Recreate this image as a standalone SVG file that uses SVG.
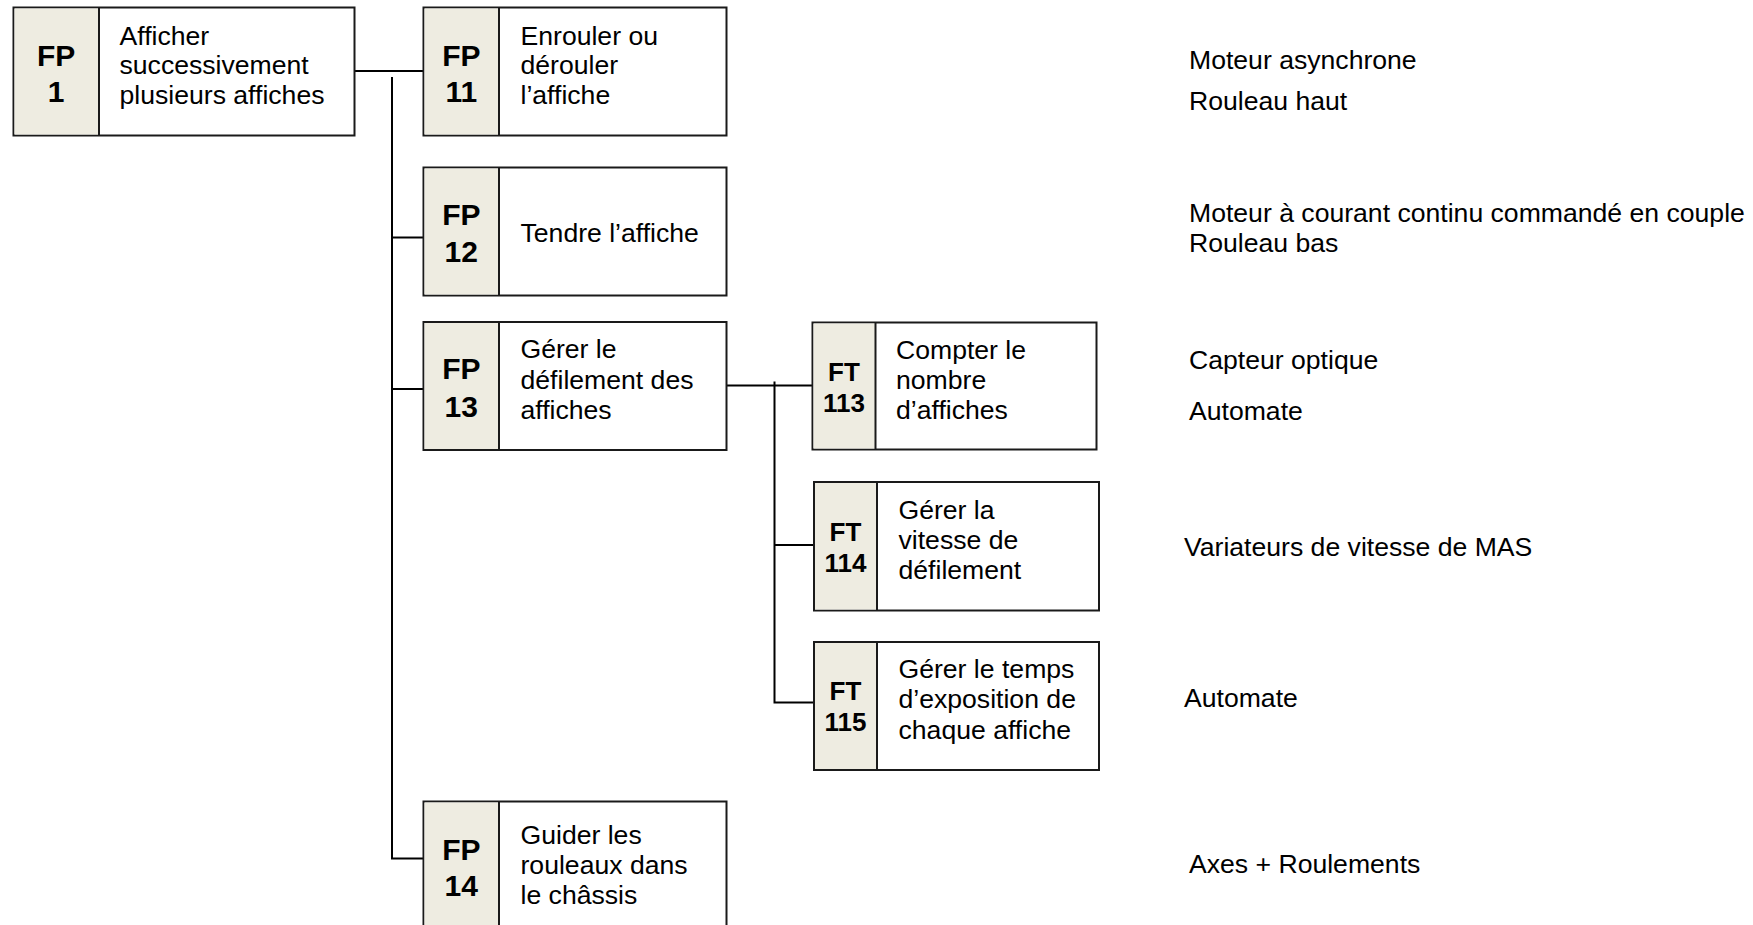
<svg xmlns="http://www.w3.org/2000/svg" width="1753" height="925" viewBox="0 0 1753 925">
<style>
.box{fill:#ffffff;stroke:#1a1a1a;stroke-width:2}
.id{fill:#EEECE1;stroke:none}
.div{stroke:#1a1a1a;stroke-width:2}
.t{font-family:"Liberation Sans",Arial,sans-serif;font-size:26.6px;fill:#000}
.fp{font-family:"Liberation Sans",Arial,sans-serif;font-size:30px;font-weight:bold;fill:#000;text-anchor:middle}
.ft{font-family:"Liberation Sans",Arial,sans-serif;font-size:26px;font-weight:bold;fill:#000;text-anchor:middle}
.c{fill:none;stroke:#000;stroke-width:2}
</style>
<rect width="1753" height="925" fill="#ffffff"/>
<g id="connectors">
<line class="c" x1="354.5" y1="71" x2="423.5" y2="71"/>
<polyline class="c" points="392,77 392,858.5 423.5,858.5"/>
<line class="c" x1="392" y1="237.5" x2="423.5" y2="237.5"/>
<line class="c" x1="392" y1="389" x2="423.5" y2="389"/>
<line class="c" x1="726.5" y1="385.5" x2="812.5" y2="385.5"/>
<polyline class="c" points="774.5,381.5 774.5,702.5 814,702.5"/>
<line class="c" x1="774.5" y1="545" x2="814" y2="545"/>
</g>
<g id="FP1">
<rect class="box" x="13.5" y="7.5" width="341" height="128"/>
<rect class="id" x="14.5" y="8.5" width="84.5" height="126"/>
<line class="div" x1="99" y1="7.5" x2="99" y2="135.5"/>
<text class="fp" x="56.2" y="66">FP</text>
<text class="fp" x="56.2" y="102">1</text>
<text class="t" x="119.5" y="44.5">Afficher</text>
<text class="t" x="119.5" y="74">successivement</text>
<text class="t" x="119.5" y="103.5">plusieurs affiches</text>
</g>
<g id="FP11">
<rect class="box" x="423.5" y="7.5" width="303" height="128"/>
<rect class="id" x="424.5" y="8.5" width="74.5" height="126"/>
<line class="div" x1="499" y1="7.5" x2="499" y2="135.5"/>
<text class="fp" x="461.3" y="66">FP</text>
<text class="fp" x="461.3" y="102">11</text>
<text class="t" x="520.5" y="44.5">Enrouler ou</text>
<text class="t" x="520.5" y="74">dérouler</text>
<text class="t" x="520.5" y="103.5">l’affiche</text>
</g>
<g id="FP12">
<rect class="box" x="423.5" y="167.5" width="303" height="128"/>
<rect class="id" x="424.5" y="168.5" width="74.5" height="126"/>
<line class="div" x1="499" y1="167.5" x2="499" y2="295.5"/>
<text class="fp" x="461.3" y="225">FP</text>
<text class="fp" x="461.3" y="262">12</text>
<text class="t" x="520.5" y="242">Tendre l’affiche</text>
</g>
<g id="FP13">
<rect class="box" x="423.5" y="322" width="303" height="128"/>
<rect class="id" x="424.5" y="323" width="74.5" height="126"/>
<line class="div" x1="499" y1="322" x2="499" y2="450"/>
<text class="fp" x="461.3" y="379">FP</text>
<text class="fp" x="461.3" y="416.5">13</text>
<text class="t" x="520.5" y="357.5">Gérer le</text>
<text class="t" x="520.5" y="388.5">défilement des</text>
<text class="t" x="520.5" y="418.5">affiches</text>
</g>
<g id="FP14">
<rect class="box" x="423.5" y="801.5" width="303" height="140"/>
<rect class="id" x="424.5" y="802.5" width="74.5" height="138"/>
<line class="div" x1="499" y1="801.5" x2="499" y2="941"/>
<text class="fp" x="461.3" y="859.5">FP</text>
<text class="fp" x="461.3" y="895.5">14</text>
<text class="t" x="520.5" y="844">Guider les</text>
<text class="t" x="520.5" y="874">rouleaux dans</text>
<text class="t" x="520.5" y="904">le châssis</text>
</g>
<g id="FT113">
<rect class="box" x="812.5" y="322.5" width="284" height="127"/>
<rect class="id" x="813.5" y="323.5" width="62" height="125"/>
<line class="div" x1="875.5" y1="322.5" x2="875.5" y2="449.5"/>
<text class="ft" x="844" y="381">FT</text>
<text class="ft" x="844" y="412">113</text>
<text class="t" x="896" y="358.5">Compter le</text>
<text class="t" x="896" y="388.5">nombre</text>
<text class="t" x="896" y="418.5">d’affiches</text>
</g>
<g id="FT114">
<rect class="box" x="814" y="482" width="285" height="128.5"/>
<rect class="id" x="815" y="483" width="62" height="126.5"/>
<line class="div" x1="877" y1="482" x2="877" y2="610.5"/>
<text class="ft" x="845.5" y="540.5">FT</text>
<text class="ft" x="845.5" y="571.5">114</text>
<text class="t" x="898.5" y="518.5">Gérer la</text>
<text class="t" x="898.5" y="548.5">vitesse de</text>
<text class="t" x="898.5" y="579">défilement</text>
</g>
<g id="FT115">
<rect class="box" x="814" y="642" width="285" height="128"/>
<rect class="id" x="815" y="643" width="62" height="126"/>
<line class="div" x1="877" y1="642" x2="877" y2="770"/>
<text class="ft" x="845.5" y="700">FT</text>
<text class="ft" x="845.5" y="731">115</text>
<text class="t" x="898.5" y="678">Gérer le temps</text>
<text class="t" x="898.5" y="708">d’exposition de</text>
<text class="t" x="898.5" y="738.5">chaque affiche</text>
</g>
<g id="solutions">
<text class="t" x="1189" y="69">Moteur asynchrone</text>
<text class="t" x="1189" y="110">Rouleau haut</text>
<text class="t" x="1189" y="222">Moteur à courant continu commandé en couple</text>
<text class="t" x="1189" y="252">Rouleau bas</text>
<text class="t" x="1189" y="368.5">Capteur optique</text>
<text class="t" x="1189" y="420">Automate</text>
<text class="t" x="1184" y="556">Variateurs de vitesse de MAS</text>
<text class="t" x="1184" y="707">Automate</text>
<text class="t" x="1189" y="872.5">Axes + Roulements</text>
</g>
</svg>
